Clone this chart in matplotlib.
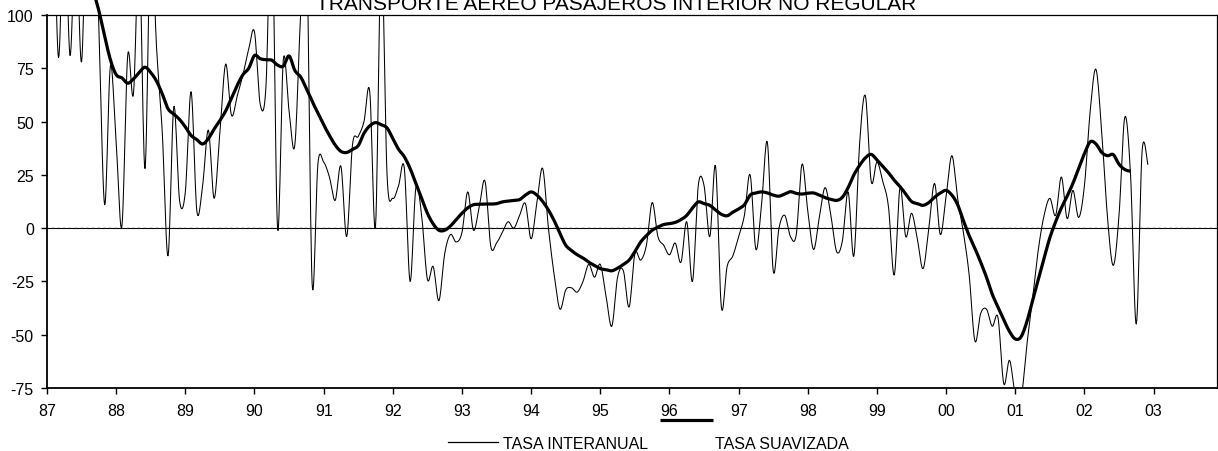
import numpy as np
import matplotlib
matplotlib.use("Agg")
import matplotlib.pyplot as plt
from matplotlib.lines import Line2D

plt.rcParams["font.family"] = ["Liberation Sans", "DejaVu Sans"]

# ---------------------------------------------------------------- data
title = "TRANSPORTE AEREO PASAJEROS INTERIOR NO REGULAR"
year_labels = ["87", "88", "89", "90", "91", "92", "93", "94", "95",
               "96", "97", "98", "99", "00", "01", "02", "03"]
y_ticks = [-75, -50, -25, 0, 25, 50, 75, 100]

# year-on-year rate, monthly from January 1987
interanual = [
    140, 160, 80, 150, 81, 140, 78, 170, 180, 95,
    11, 76, 40, 1, 81, 63, 130, 28, 140, 85,
    45, -13, 57, 13, 17, 64, 8, 20, 46, 14,
    45, 77, 53, 62, 72, 84, 92, 58, 67, 150,
    0, 79, 55, 39, 100, 140, -26, 30, 31, 24,
    13, 29, -4, 39, 43, 50, 64, 1, 130, 25,
    14, 20, 28, -25, 19, 6, -24, -18, -34, -12,
    -3, -6.5, -2, 17, -1, 10, 22, -8.5, -7, -2,
    3, 0, 6, 11.5, -5, 12, 28, 0, -22, -38,
    -29, -28, -30, -25, -17, -23, -17, -32, -46, -23,
    -20, -37, -12, -15, -8, 12, -4, -8, -12.5, -7,
    -16, 3, -25, 20, 20, -4, 29, -37, -18, -13,
    -4, 6, 25, -10, 12, 40, -20, 0, 6, -4,
    -3, 30, 8, -10, 5, 19, 6, -11, -6, 17,
    -13, 40, 62, 22, 31, 22, 10, -22, 19, -4,
    7, -5, -19, 0, 21, -3, 15, 34, 14, -2,
    -22, -53, -40, -38, -46, -42, -73, -62, -78, -80,
    -55, -33, -10, 6, 14, 6, 24, 4.5, 17.7, 5,
    20, 55, 74.5, 45, 5, -17.5, 6, 52, 25, -45,
    36, 30,
]

# smoothed rate, monthly from August 1987
suavizada_start = 7
suavizada = [
    125, 112, 102,
    90, 79, 72, 70.5, 68, 70, 73, 75.5, 73, 69,
    63, 56, 53.5, 51, 47.5, 43.5, 41.5, 39.5, 42, 46.5,
    50.5, 55, 61, 67, 72, 75, 81, 79.5, 79, 78.8,
    76.5, 76, 80.8, 74, 71, 65.5, 59.5, 54, 48.5, 43.5,
    39, 36, 35.5, 37, 38.7, 44.5, 48, 49.5, 48.5, 47,
    42, 37, 33.5, 28, 21, 14, 7, 2, -1, -1,
    1, 4, 7, 9.5, 11, 11.2, 11.3, 11.3, 11.5, 12.3,
    12.7, 13, 13.4, 15.5, 17, 15.5, 12.5, 8.5, 3.5, -2.5,
    -8, -10.5, -12.5, -14, -16, -17.5, -19, -19.5, -20, -18.8,
    -17, -15, -11, -6.5, -3.5, -1, 0.5, 1.7, 2.1, 2.7,
    4, 6, 9.5, 12.3, 11.5, 10.7, 8.5, 6.5, 5.8, 7.5,
    9, 11, 15.5, 16.5, 17, 16.5, 15.5, 15, 16, 17.1,
    16.3, 16, 16.4, 16.5, 15.5, 14.3, 13.5, 13, 14.5, 19,
    25, 29.5, 33, 34.6, 32, 29, 26, 22.5, 19.5, 16,
    12.5, 11.5, 10.7, 12, 14.5, 16.5, 17.7, 15.5, 11, 3.5,
    -3.5, -9.5, -16, -23, -31, -37, -43, -48.5, -52, -51,
    -44, -34, -24, -14, -4.5, 3, 9.5, 15, 21, 28,
    35, 40.5, 39.5, 35.5, 34, 34.5, 30, 27.5, 26.7,
]


def smooth_path(x, y, steps=12):
    """Bezier smoothing through every point (control points at 1/6 of
    the neighbour differences), like a spreadsheet 'smoothed line'."""
    x = np.asarray(x, float)
    y = np.asarray(y, float)
    px = np.concatenate([[x[0]], x, [x[-1]]])
    py = np.concatenate([[y[0]], y, [y[-1]]])
    t = np.linspace(0.0, 1.0, steps, endpoint=False)[:, None]
    xs, ys = [], []
    for i in range(1, len(px) - 2):
        p0 = np.array([px[i - 1], py[i - 1]])
        p1 = np.array([px[i], py[i]])
        p2 = np.array([px[i + 1], py[i + 1]])
        p3 = np.array([px[i + 2], py[i + 2]])
        b1 = p1 + (p2 - p0) / 6.0
        b2 = p2 - (p3 - p1) / 6.0
        pts = ((1 - t) ** 3 * p1 + 3 * (1 - t) ** 2 * t * b1
               + 3 * (1 - t) * t ** 2 * b2 + t ** 3 * p2)
        xs.append(pts[:, 0])
        ys.append(pts[:, 1])
    xs.append([x[-1]])
    ys.append([y[-1]])
    return np.concatenate(xs), np.concatenate(ys)


# ---------------------------------------------------------------- figure
W, H = 1218, 452
fig = plt.figure(figsize=(W / 100, H / 100), dpi=100)
ax = fig.add_axes([47 / W, 63 / H, 1170 / W, 373 / H])

months_i = np.arange(len(interanual))
months_s = np.arange(len(suavizada)) + suavizada_start

xi, yi = smooth_path(months_i, interanual)
xs, ys = smooth_path(months_s, suavizada)

# zero line with small monthly tick marks
ax.axhline(0, color="black", lw=0.8, zorder=1)
zero_ticks = np.arange(0, 204)
ax.plot(zero_ticks, np.zeros_like(zero_ticks), ls="none", marker="|",
        ms=1.8, mew=0.35, color="#555555", zorder=1)

ax.plot(xi, yi, color="black", lw=0.75, zorder=2)
ax.plot(xs, ys, color="black", lw=2.3, zorder=3, clip_on=False,
        solid_capstyle="butt")

ax.set_xlim(0, 203)
ax.set_ylim(-75, 100)
ax.set_xticks(np.arange(0, 12 * len(year_labels), 12))
ax.set_xticklabels(year_labels)
ax.set_yticks(y_ticks)
ax.set_yticklabels([str(v) for v in y_ticks])
ax.tick_params(axis="x", direction="out", length=4, width=1, pad=7,
               labelsize=11.5)
ax.tick_params(axis="y", direction="out", length=4.5, width=1, pad=5,
               labelsize=11.5)
for side in ("left", "bottom"):
    ax.spines[side].set_linewidth(1.3)
for side in ("top", "right"):
    ax.spines[side].set_linewidth(0.9)

# title, partly above the top edge of the canvas
fig.text(616.5 / W, 1 - 9.5 / H, title, ha="center", va="baseline",
         fontsize=15)

# legend
fig.add_artist(Line2D([448.3 / W, 498.3 / W], [1 - 443.3 / H, 1 - 443.3 / H],
                      color="black", lw=0.9))
fig.text(503.3 / W, 1 - 449 / H, "TASA INTERANUAL", ha="left",
         va="baseline", fontsize=11.5)
fig.add_artist(Line2D([660 / W, 712.7 / W], [1 - 420.7 / H, 1 - 420.7 / H],
                      color="black", lw=2.3, solid_capstyle="butt"))
fig.text(715 / W, 1 - 449 / H, "TASA SUAVIZADA", ha="left",
         va="baseline", fontsize=11.5)

fig.savefig("out.png", dpi=100)
